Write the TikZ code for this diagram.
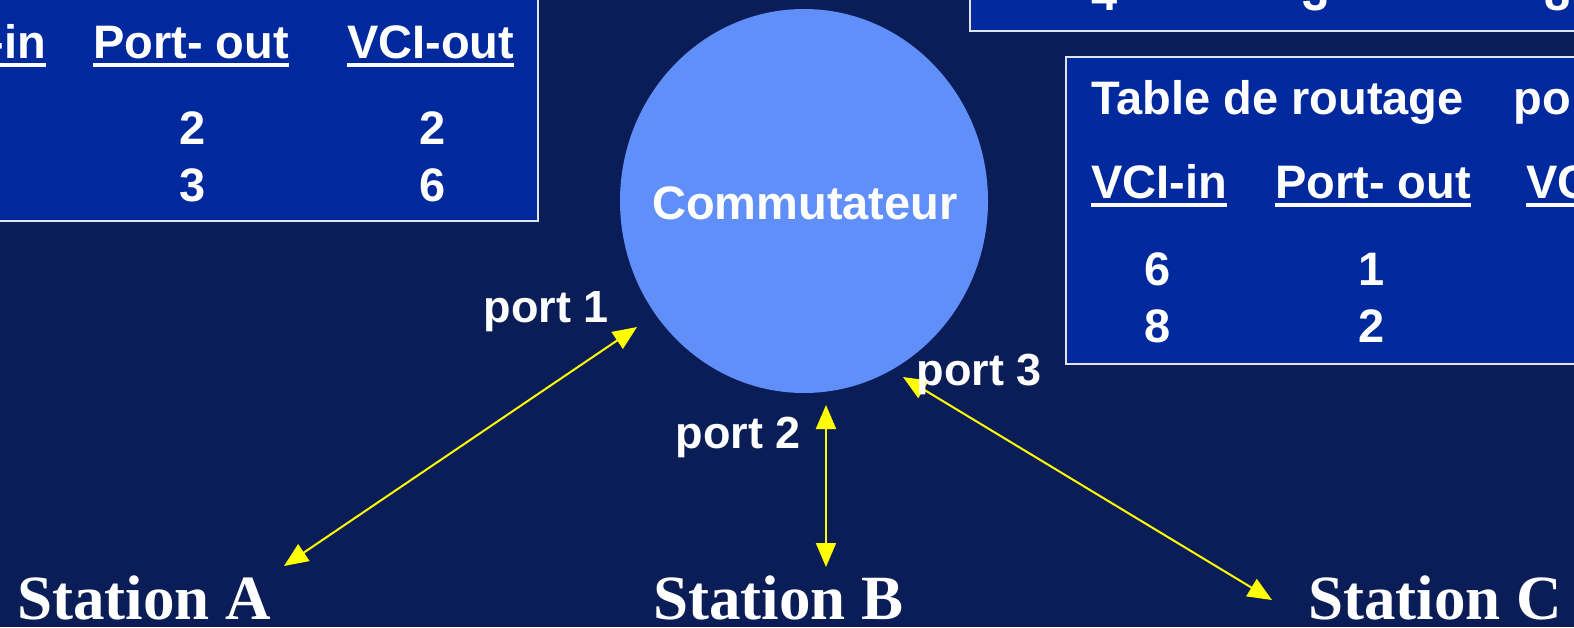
\documentclass[tikz,border=0pt]{standalone}
\usepackage{fontspec}
\setmainfont{Liberation Sans}
\newfontfamily\stationfont{Liberation Serif}
\usetikzlibrary{arrows.meta}

\definecolor{slidebg}{RGB}{10,29,87}
\definecolor{tablefill}{RGB}{0,41,158}
\definecolor{tableline}{RGB}{225,228,240}
\definecolor{switchblue}{RGB}{97,143,250}
\definecolor{linkyellow}{RGB}{255,255,0}

\begin{document}
\begin{tikzpicture}
	[x=1pt,y=-1pt,
	 tablebox/.style={fill=tablefill,draw=tableline,line width=2.5pt},
	 txt/.style={text=white,inner sep=0pt,anchor=base,
		font=\fontsize{47}{56}\selectfont\bfseries},
	 hdr/.style={txt,anchor=base west},
	 uline/.style={white,line width=4pt},
	 portlabel/.style={txt,font=\fontsize{45}{54}\selectfont\bfseries},
	 station/.style={text=white,inner sep=0pt,anchor=base west,
		font=\stationfont\fontsize{63}{70}\selectfont\bfseries},
	 link/.style={{Triangle[length=24pt,width=20pt]}-{Triangle[length=24pt,width=20pt]},
		linkyellow,line width=2pt}]
	\useasboundingbox (0,0) rectangle (1574,627);
	\clip (0,0) rectangle (1574,627);
	\fill[slidebg] (0,0) rectangle (1574,627);

	%
	% routing tables
	%

	% table of port 1 (left)
	\draw[tablebox] (-20,-20) rectangle (538,221);
	\node[hdr,anchor=base east] (lin) at (46,58) {VCI-in};
	\node[hdr] (lpo) at (93,58) {Port- out};
	\node[hdr] (lvo) at (347,58) {VCI-out};
	\node[txt] (lpa) at (193,144) {2};
	\node[txt] (lva) at (433,144) {2};
	\node[txt] (lpb) at (193,201) {3};
	\node[txt] (lvb) at (433,201) {6};

	% table of port 2 (top right)
	\draw[tablebox] (970,-20) rectangle (1610,31);
	\node[txt] (tin) at (1105,10) {4};
	\node[txt] (tpo) at (1316,10) {3};
	\node[txt] (tvo) at (1558,10) {8};

	% table of port 3 (right)
	\draw[tablebox] (1066,57) rectangle (1610,364);
	\node[hdr] (rtitle) at (1091,114) {Table de routage\hspace{50pt}po};
	\node[hdr] (rin) at (1091,198) {VCI-in};
	\node[hdr] (rpo) at (1275,198) {Port- out};
	\node[hdr] (rvo) at (1526,198) {VCI-out};
	\node[txt] (ria) at (1158,285) {6};
	\node[txt] (rpa) at (1372,285) {1};
	\node[txt] (rib) at (1158,342) {8};
	\node[txt] (rpb) at (1372,342) {2};

	% underlined column heads
	\foreach \h in {lin,lpo,lvo,rin,rpo,rvo}
		\draw[uline] ([yshift=-7pt]\h.base west) -- ([yshift=-7pt]\h.base east);

	%
	% switch and stations
	%
	\fill[switchblue] (804,201) ellipse [x radius=184pt,y radius=192pt];
	\node[txt,anchor=center] (sw) at (805,203) {Commutateur};

	\node[station] (sa) at (17,619) {Station A};
	\node[station] (sb) at (653,619) {Station B};
	\node[station] (sc) at (1308,619) {Station C};

	% link ends
	\coordinate (p1) at (637,327);
	\coordinate (p2) at (826,405);
	\coordinate (p3) at (903,377);
	\coordinate (a1) at (284,566);
	\coordinate (b1) at (826,567);
	\coordinate (c1) at (1272,600);

	% links
	\draw[link] (a1) -- (p1);
	\draw[link] (b1) -- (p2);
	\draw[link] (c1) -- (p3);

	% port labels
	\node[portlabel] (l1) at (546,322) {port 1};
	\node[portlabel] (l2) at (738,448) {port 2};
	\node[portlabel] (l3) at (979,385) {port 3};

\end{tikzpicture}
\end{document}
